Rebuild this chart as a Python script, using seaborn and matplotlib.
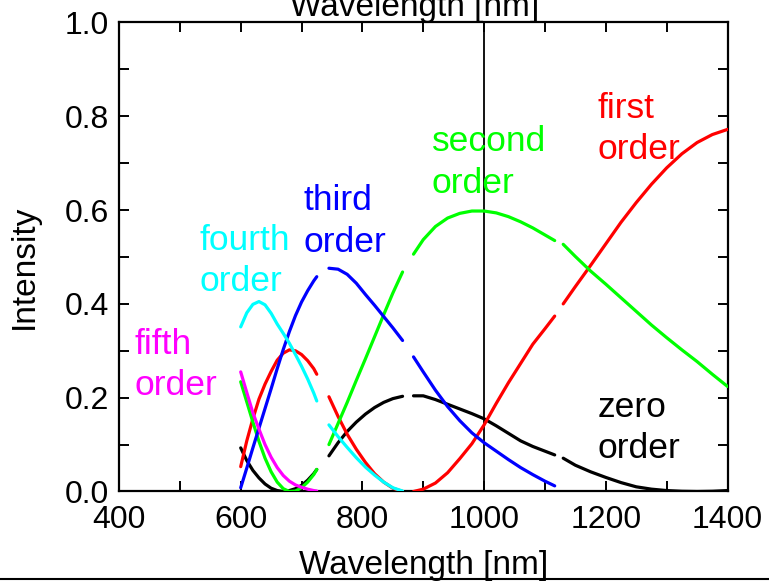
import numpy as np
import pandas as pd
import matplotlib
matplotlib.use("Agg")
import matplotlib.pyplot as plt
from matplotlib.lines import Line2D
from matplotlib.ticker import MultipleLocator, FormatStrFormatter
import seaborn as sns

# ---------------- data ----------------
wl_seg1 = [600, 610, 620, 630, 640, 650, 660, 670, 680, 690, 700, 710, 720, 725]
wl_seg2 = [745, 760, 775, 790, 805, 820, 835, 850, 866]
wl_seg3 = [884, 900, 920, 940, 960, 980, 1000, 1020, 1040, 1060, 1080, 1100, 1116]
wl_seg4 = [1130, 1150, 1175, 1200, 1225, 1250, 1275, 1300, 1325, 1350, 1375, 1400]

zero_seg1 = [0.093, 0.066, 0.045, 0.029, 0.016, 0.007, 0.002, 0.000, 0.002, 0.006, 0.013, 0.024, 0.038, 0.047]
zero_seg2 = [0.076, 0.104, 0.128, 0.148, 0.165, 0.179, 0.190, 0.198, 0.203]
zero_seg3 = [0.204, 0.204, 0.196, 0.186, 0.176, 0.166, 0.155, 0.140, 0.124, 0.108, 0.096, 0.086, 0.078]
zero_seg4 = [0.071, 0.056, 0.042, 0.030, 0.019, 0.010, 0.005, 0.002, 0.0005, 0.000, 0.0005, 0.002]

first_seg1 = [0.053, 0.108, 0.155, 0.197, 0.229, 0.256, 0.280, 0.295, 0.302, 0.300, 0.292, 0.279, 0.262, 0.250]
first_seg2 = [0.202, 0.160, 0.122, 0.090, 0.062, 0.038, 0.020, 0.007, 0.000]
first_seg3 = [0.000, 0.005, 0.018, 0.040, 0.070, 0.102, 0.142, 0.188, 0.232, 0.273, 0.314, 0.347, 0.374]
first_seg4 = [0.400, 0.437, 0.482, 0.528, 0.574, 0.616, 0.655, 0.690, 0.720, 0.744, 0.761, 0.772]

second_seg1 = [0.234, 0.191, 0.148, 0.107, 0.071, 0.042, 0.020, 0.006, 0.000, 0.001, 0.008, 0.020, 0.036, 0.047]
second_seg2 = [0.100, 0.145, 0.190, 0.237, 0.283, 0.330, 0.377, 0.423, 0.468]
second_seg3 = [0.506, 0.537, 0.565, 0.583, 0.593, 0.598, 0.598, 0.594, 0.586, 0.575, 0.562, 0.547, 0.535]
second_seg4 = [0.527, 0.501, 0.470, 0.442, 0.413, 0.384, 0.355, 0.328, 0.302, 0.277, 0.250, 0.224]

third_seg1 = [0.008, 0.050, 0.093, 0.135, 0.177, 0.219, 0.262, 0.303, 0.341, 0.375, 0.404, 0.428, 0.449, 0.458]
third_seg2 = [0.476, 0.474, 0.463, 0.444, 0.420, 0.397, 0.373, 0.349, 0.322]
third_seg3 = [0.287, 0.255, 0.216, 0.181, 0.151, 0.125, 0.104, 0.086, 0.068, 0.051, 0.036, 0.022, 0.012]

fourth_seg1 = [0.351, 0.381, 0.399, 0.405, 0.398, 0.380, 0.357, 0.337, 0.316, 0.292, 0.267, 0.240, 0.210, 0.193]
fourth_seg2 = [0.142, 0.117, 0.094, 0.072, 0.052, 0.035, 0.020, 0.008, 0.001]

fifth_seg1 = [0.255, 0.211, 0.168, 0.133, 0.100, 0.073, 0.051, 0.034, 0.022, 0.014, 0.009, 0.005, 0.002, 0.001]

orders = ["zero", "first", "second", "third", "fourth", "fifth"]
colors = ["#000000", "#FF0000", "#00FF00", "#0000FF", "#00FFFF", "#FF00FF"]

series = {
    "zero": [(wl_seg1, zero_seg1), (wl_seg2, zero_seg2), (wl_seg3, zero_seg3), (wl_seg4, zero_seg4)],
    "first": [(wl_seg1, first_seg1), (wl_seg2, first_seg2), (wl_seg3, first_seg3), (wl_seg4, first_seg4)],
    "second": [(wl_seg1, second_seg1), (wl_seg2, second_seg2), (wl_seg3, second_seg3), (wl_seg4, second_seg4)],
    "third": [(wl_seg1, third_seg1), (wl_seg2, third_seg2), (wl_seg3, third_seg3)],
    "fourth": [(wl_seg1, fourth_seg1), (wl_seg2, fourth_seg2)],
    "fifth": [(wl_seg1, fifth_seg1)],
}

rows = []
for name in orders:
    for k, (wl, vals) in enumerate(series[name]):
        for w, v in zip(wl, vals):
            rows.append({"order": name, "seg": f"{name}{k}", "wl": w, "I": v})
df = pd.DataFrame(rows)

# ---------------- style ----------------
sns.set_theme(style="ticks")
plt.rcParams["font.family"] = ["Liberation Sans", "DejaVu Sans"]

fig = plt.figure(figsize=(7.69, 5.83), dpi=100)
ax = fig.add_axes([0.15475, 0.15695, 0.7913, 0.8045])

ax.axvline(1000, color="black", lw=1.3, zorder=1)

sns.lineplot(data=df, x="wl", y="I", hue="order", units="seg", estimator=None,
             palette=dict(zip(orders, colors)), hue_order=orders, sort=False,
             legend=False, linewidth=2.3, ax=ax, zorder=3)

ax.set_xlim(400, 1400)
ax.set_ylim(0, 1.0)
ax.xaxis.set_major_locator(MultipleLocator(200))
ax.xaxis.set_minor_locator(MultipleLocator(100))
ax.yaxis.set_major_locator(MultipleLocator(0.2))
ax.yaxis.set_minor_locator(MultipleLocator(0.1))
ax.yaxis.set_major_formatter(FormatStrFormatter("%.1f"))
ax.tick_params(which="both", direction="in", length=7, width=1.4, top=True, right=True,
               labelsize=23, colors="black")
ax.tick_params(axis="x", pad=10)
ax.tick_params(axis="y", pad=7)
for s in ax.spines.values():
    s.set_linewidth(1.6)
    s.set_color("black")

ax.set_xlabel("Wavelength [nm]", fontsize=24, color="black", labelpad=10.5)
ax.set_ylabel("Intensity", fontsize=24, color="black")
ax.yaxis.set_label_coords(-0.13, 0.48)

fig.text(415 / 769, 1 - 16 / 583, "Wavelength [nm]", fontsize=24, ha="center",
         va="baseline", color="black")

# (text, x in nm, y of last-line baseline, colour)
labels = [
    ("first\norder", 1186, (491.5 - 159.3) / 469, "#FF0000"),
    ("zero\norder", 1186, (491.5 - 458.0) / 469, "#000000"),
    ("second\norder", 914, (491.5 - 192.7) / 469, "#00FF00"),
    ("third\norder", 704, (491.5 - 251.7) / 469, "#0000FF"),
    ("fourth\norder", 533, (491.5 - 291.0) / 469, "#00FFFF"),
    ("fifth\norder", 426, (491.5 - 395.0) / 469, "#FF00FF"),
]
for txt, x, y, c in labels:
    ax.text(x, y, txt, color=c, fontsize=25.5, ha="left", va="baseline", linespacing=1.32)

fig.add_artist(Line2D([0, 1], [1 - 579 / 583] * 2, color="black", lw=1.5,
                      transform=fig.transFigure))

fig.savefig("out.png", dpi=100)
